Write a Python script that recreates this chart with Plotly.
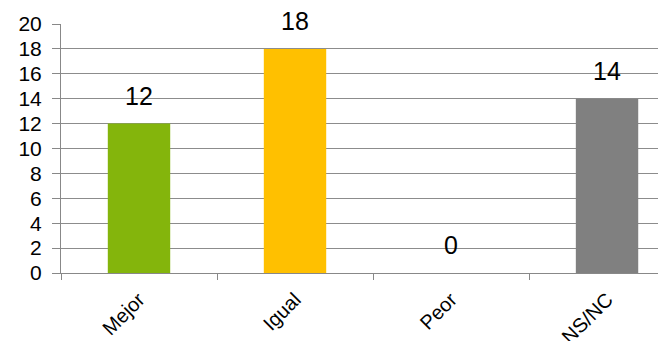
import plotly.graph_objects as go

categories = ["Mejor", "Igual", "Peor", "NS/NC"]
values = [12, 18, 0, 14]
colors = ["#84B50C", "#FFC000", "#FFFFFF", "#808080"]
y_ticks = list(range(0, 21, 2))

fig = go.Figure()
fig.add_trace(go.Bar(
    x=categories, y=values,
    marker=dict(color=colors, line=dict(width=0)),
    width=0.4,
    hoverinfo="skip",
))

for c, v in zip(categories, values):
    fig.add_annotation(
        x=c, y=v, text=str(v), showarrow=False,
        yanchor="bottom", yshift=12,
        font=dict(family="Liberation Sans, Arial", size=25, color="#000000"),
    )

fig.update_layout(
    width=658, height=333,
    margin=dict(l=53, r=0, t=16, b=68, autoexpand=False),
    paper_bgcolor="white", plot_bgcolor="white",
    showlegend=False,
    font=dict(family="Liberation Sans, Arial", size=20, color="#000000"),
    xaxis=dict(
        type="category",
        range=[-0.5, 3.378],
        tickson="boundaries",
        ticks="outside", ticklen=6, tickcolor="#888888", tickwidth=1,
        ticklabelstandoff=6,
        showline=True, linecolor="#888888", linewidth=1,
        showgrid=False,
        tickangle=-45,
        tickfont=dict(size=20),
        automargin=False,
    ),
    yaxis=dict(
        range=[0, 20],
        tickvals=y_ticks,
        ticks="outside", ticklen=8, tickcolor="#888888", tickwidth=1,
        ticklabelstandoff=6,
        showline=True, linecolor="#888888", linewidth=1,
        showgrid=True, gridcolor="#8C8C8C", gridwidth=1,
        zeroline=False,
        tickfont=dict(size=21),
        automargin=False,
    ),
)

fig.write_html("out.html")
